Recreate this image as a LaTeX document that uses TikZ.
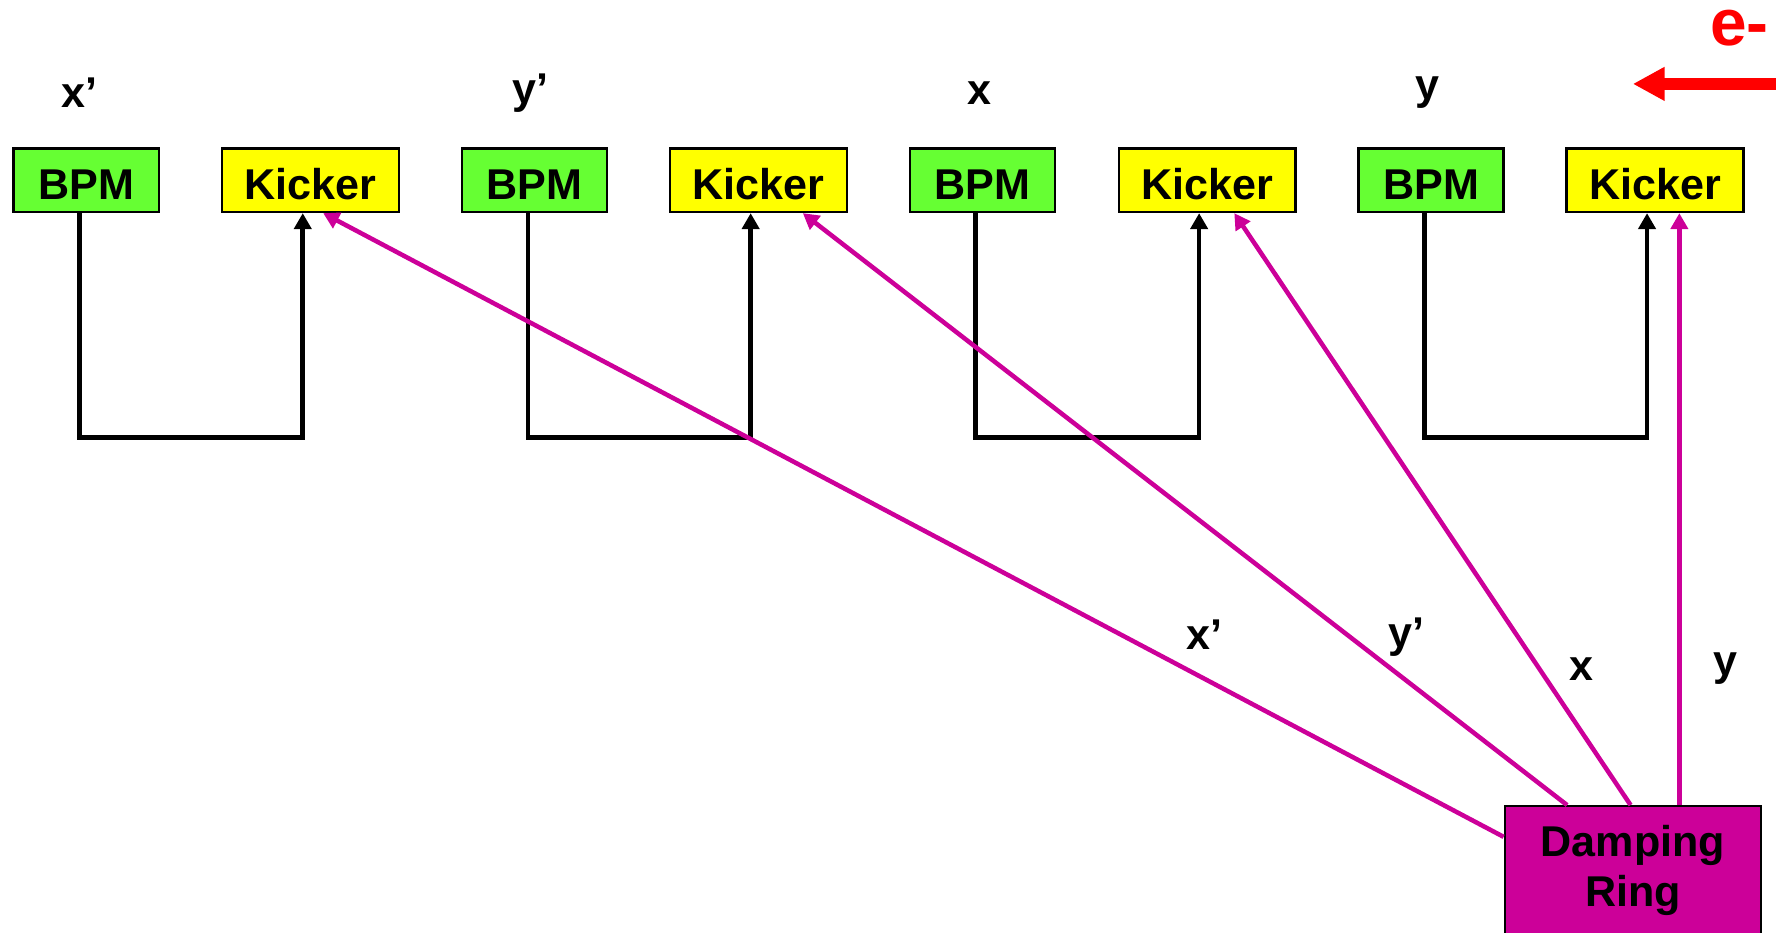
\documentclass[tikz,border=0pt]{standalone}
\usepackage{fontspec}
\setmainfont{Liberation Sans}
\usetikzlibrary{arrows.meta}

\definecolor{bpmgreen}{RGB}{102,255,51}
\definecolor{kickyellow}{RGB}{255,255,0}
\definecolor{ringmagenta}{RGB}{204,0,153}

\tikzset{
  bpmbox/.style={draw=black, line width=1pt, fill=bpmgreen, minimum width=64pt, minimum height=28pt, inner sep=0pt, text height=17pt, text depth=0pt, font=\fontsize{19}{23}\selectfont\bfseries},
  kickbox/.style={bpmbox, fill=kickyellow, minimum width=78pt},
  planelabel/.style={inner sep=0pt, font=\fontsize{19}{23}\selectfont\bfseries},
  loopline/.style={draw=black, line width=2pt, -{Triangle[length=7pt,width=7.5pt]}},
  ringline/.style={draw=ringmagenta, line width=2pt, -{Triangle[length=7pt,width=7.5pt]}},
}

\begin{document}
\begin{tikzpicture}[x=0.5pt,y=0.5pt,yscale=-1,xscale=1]
\useasboundingbox (0,0) rectangle (1568,822);
%Text: plane labels
\node[planelabel] (lxp) at (70,82) {x’};
\node[planelabel] (lyp) at (468,82) {y’};
\node[planelabel] (lx) at (864,82) {x};
\node[planelabel] (ly) at (1259,82) {y};
%Shape: Rectangle BPM and Kicker pairs
\node[bpmbox] (bpmA) at (76,159) {BPM};
\node[kickbox] (kickA) at (274,159) {Kicker};
\node[bpmbox] (bpmB) at (471.5,159) {BPM};
\node[kickbox] (kickB) at (669,159) {Kicker};
\node[bpmbox] (bpmC) at (866.5,159) {BPM};
\node[kickbox] (kickC) at (1064.5,159) {Kicker};
\node[bpmbox] (bpmD) at (1262,159) {BPM};
\node[kickbox] (kickD) at (1459.5,159) {Kicker};
%Shape: Rectangle damping ring
\node[draw=black, line width=1pt, fill=ringmagenta, minimum width=113pt, minimum height=57pt, anchor=north west, align=center, font=\fontsize{19}{22}\selectfont\bfseries] (ring) at (1326,710) {Damping\\Ring};
%Straight Lines: local loops
\draw[loopline] ([xshift=-3pt]bpmA.south) -- ++(0,198) -| ([xshift=-3.5pt]kickA.south);
\draw[loopline] ([xshift=-3pt]bpmB.south) -- ++(0,198) -| ([xshift=-3.5pt]kickB.south);
\draw[loopline] ([xshift=-3pt]bpmC.south) -- ++(0,198) -| ([xshift=-3.5pt]kickC.south);
\draw[loopline] ([xshift=-3pt]bpmD.south) -- ++(0,198) -| ([xshift=-3.5pt]kickD.south);
%Straight Lines: ring feed forward
\coordinate (fxp) at ([yshift=14pt]ring.north west);
\coordinate (fyp) at ([xshift=28pt]ring.north west);
\coordinate (fx) at ([xshift=56pt]ring.north west);
\coordinate (fy) at ([xshift=77.5pt]ring.north west);
\draw[ringline] (fxp) -- ([xshift=5.5pt]kickA.south);
\draw[ringline] (fyp) -- ([xshift=19.5pt]kickB.south);
\draw[ringline] (fx) -- ([xshift=12pt]kickC.south);
\draw[ringline] (fy) -- (fy |- kickD.south);
%Text: line labels
\node[planelabel] (sxp) at (1062,560) {x’};
\node[planelabel] (syp) at (1240,562) {y’};
\node[planelabel] (sx) at (1395,590) {x};
\node[planelabel] (sy) at (1522,590) {y};
%Text: beam direction
\node[text=red, inner sep=0pt, anchor=east, font=\fontsize{29}{34}\selectfont\bfseries] (beam) at (1560,25) {e-};
\coordinate (beamtail) at (1566,74);
\draw[red, line width=5pt, -{Triangle[length=14pt,width=14pt]}] (beamtail) -- (1440,74);
\end{tikzpicture}
\end{document}
